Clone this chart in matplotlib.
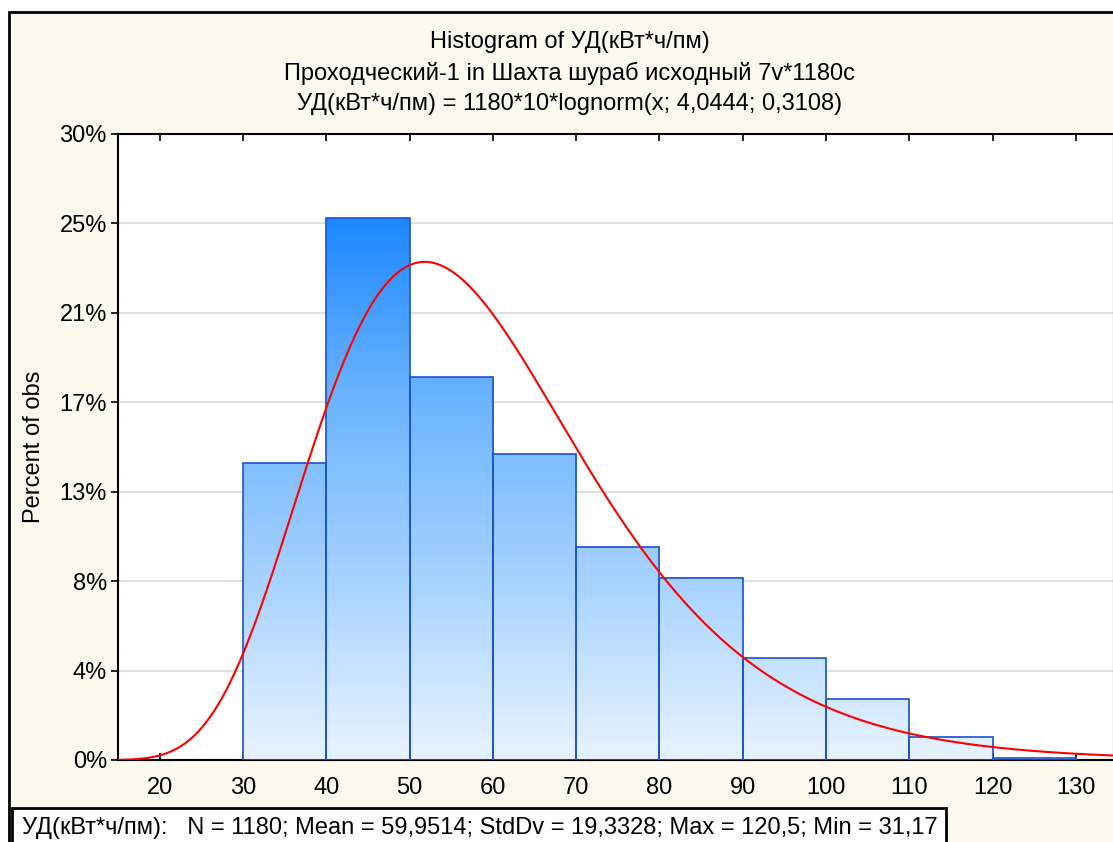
import numpy as np
import matplotlib
matplotlib.use('Agg')
import matplotlib.pyplot as plt
from matplotlib.patches import Rectangle
from matplotlib.colors import LinearSegmentedColormap

plt.rcParams['font.family'] = ['Liberation Sans', 'DejaVu Sans']

# histogram data (counts per bin, N = 1180)
bin_edges = [30, 40, 50, 60, 70, 80, 90, 100, 110, 120, 130]
counts = [166, 303, 214, 171, 119, 102, 57, 34, 13, 1]
n_obs = 1180
bin_width = 10
mu, sigma = 4.0444, 0.3108

y_ticks = [0, 50, 100, 150, 200, 250, 300, 350]
x_ticks = [20, 30, 40, 50, 60, 70, 80, 90, 100, 110, 120, 130]

title_lines = [
    "Histogram of УД(кВт*ч/пм)",
    "Проходческий-1 in Шахта шураб исходный 7v*1180c",
    "УД(кВт*ч/пм) = 1180*10*lognorm(x; 4,0444; 0,3108)",
]
stats_text = ("УД(кВт*ч/пм):   N = 1180; Mean = 59,9514; StdDv = 19,3328; "
              "Max = 120,5; Min = 31,17")

W, H = 1113, 842
CREAM = '#FEF9EE'


def px(x0, y0, x1, y1):
    # pixel box (top-left origin) -> figure fraction [left, bottom, width, height]
    return [x0 / W, 1 - y1 / H, (x1 - x0) / W, (y1 - y0) / H]


def main():
    fig = plt.figure(figsize=(W / 100, H / 100), dpi=100)
    fig.patch.set_facecolor('white')

    # outer frame of the graph window
    fig.patches.append(Rectangle((9 / W, -0.1), 1.2, 1 - 12 / H + 0.1,
                                 transform=fig.transFigure, facecolor=CREAM,
                                 edgecolor='black', linewidth=2, zorder=-5))

    ax = fig.add_axes(px(118, 134, 1113.5, 760))
    ax.set_zorder(2)
    ax.set_facecolor('white')
    xmin, xmax = 15, 134.5
    ymax = 350

    cmap = LinearSegmentedColormap.from_list(
        'bars', ['#E8F3FF', '#A6D2FF', '#6CB4FF', '#1E88FF'])
    top = max(counts)
    for left, c in zip(bin_edges[:-1], counts):
        grad = np.linspace(0, c / top, 200).reshape(-1, 1)
        ax.imshow(grad, extent=(left, left + bin_width, 0, c), origin='lower',
                  aspect='auto', cmap=cmap, vmin=0, vmax=1, zorder=2,
                  interpolation='bilinear')
    ax.bar(bin_edges[:-1], counts, width=bin_width, align='edge', fill=False,
           edgecolor='#1A52D0', linewidth=1.2, zorder=3)

    # fitted lognormal curve, scaled to counts
    xs = np.linspace(xmin + 0.01, xmax, 600)
    pdf = np.exp(-(np.log(xs) - mu) ** 2 / (2 * sigma ** 2)) / (xs * sigma * np.sqrt(2 * np.pi))
    ax.plot(xs, n_obs * bin_width * pdf, color='red', linewidth=1.5, zorder=4)

    ax.set_xlim(xmin, xmax)
    ax.set_ylim(0, ymax)
    ax.set_xticks(x_ticks)
    ax.set_yticks(y_ticks)
    ax.set_yticklabels([f"{round(v / n_obs * 100)}%" for v in y_ticks])
    ax.grid(axis='y', color='#DCDCDC', linewidth=1.2, zorder=0)
    ax.set_axisbelow(True)
    ax.tick_params(axis='x', direction='in', top=True, length=5, width=1.2,
                   labelsize=17, pad=12)
    ax.tick_params(axis='y', direction='out', length=5, width=1.2, labelsize=17, pad=3)
    ax.tick_params(axis='y', which='both', right=True)
    for s in ax.spines.values():
        s.set_linewidth(1.5)
    ax.set_ylabel("Percent of obs", fontsize=17, labelpad=10)

    for i, line in enumerate(title_lines):
        fig.text(570 / W, 1 - (42 + 31 * i) / H, line, ha='center', va='center',
                 fontsize=17)

    # statistics box
    fig.patches.append(Rectangle((12 / W, -0.05), (946 - 12) / W, 1 - 808 / H + 0.05,
                                 transform=fig.transFigure, facecolor='white',
                                 edgecolor='black', linewidth=2, zorder=3))
    fig.text(22 / W, 1 - 828 / H, stats_text, ha='left', va='center', fontsize=17,
             zorder=4)

    fig.savefig('out.png', dpi=100, facecolor=fig.get_facecolor())


if __name__ == "__main__":
    main()
